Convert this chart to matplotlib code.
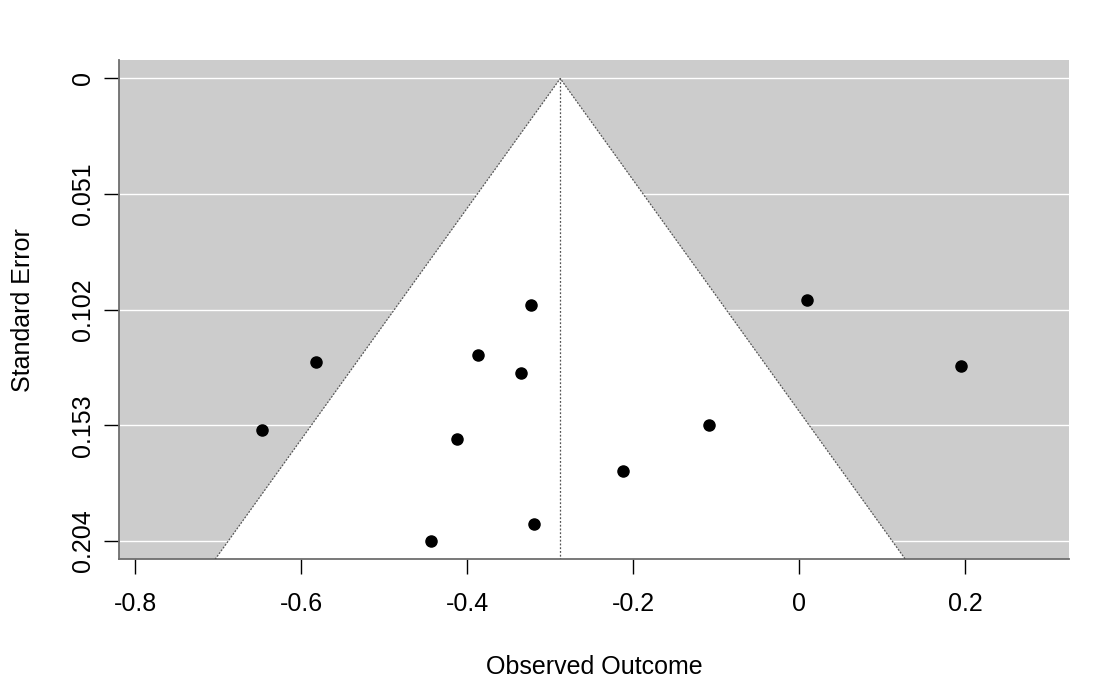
import matplotlib
matplotlib.use("Agg")
import matplotlib.pyplot as plt
import numpy as np

plt.rcParams['font.family'] = ['Liberation Sans', 'DejaVu Sans']

# data
yi = [-0.3232, 0.0093, -0.5823, -0.3871, -0.3358, 0.1950, -0.6474, -0.4124, -0.1089, -0.2124, -0.3196, -0.4437]
sei = [0.0999, 0.0977, 0.1250, 0.1219, 0.1298, 0.1268, 0.1549, 0.1589, 0.1527, 0.1730, 0.1968, 0.2039]
estimate = -0.288
x_ticks = [-0.8, -0.6, -0.4, -0.2, 0.0, 0.2]
x_ticklabels = ['-0.8', '-0.6', '-0.4', '-0.2', '0', '0.2']
y_ticks = [0.0, 0.051, 0.102, 0.153, 0.204]
y_ticklabels = ['0', '0.051', '0.102', '0.153', '0.204']

fig = plt.figure(figsize=(11, 6.8), dpi=100)
ax = fig.add_axes([0.10845, 0.1775, 0.8636, 0.73426])
ax.set_facecolor('#cccccc')

ymax = max(y_ticks)
ylim_lo = -0.04 * ymax
ylim_hi = ymax * 1.04
xlim = (-0.8193, 0.3253)
ax.set_xlim(*xlim)
ax.set_ylim(ylim_hi, ylim_lo)

# gridlines
for t in y_ticks:
    ax.axhline(t, color='white', lw=1.0, zorder=1)

# funnel
z = 1.96
se_bot = ylim_hi
poly_x = [estimate - z * se_bot, estimate, estimate + z * se_bot]
poly_y = [se_bot, 0.0, se_bot]
ax.fill(poly_x, poly_y, color='white', zorder=2, lw=0)
ax.plot(poly_x, poly_y, color='#555555', lw=0.9, ls=(0, (1.5, 1.2)), zorder=3)
ax.plot([estimate, estimate], [0.0, se_bot], color='#555555', lw=0.9, ls=(0, (1.5, 1.5)), zorder=3)

ax.plot(yi, sei, 'o', color='black', markersize=8, zorder=4)

ax.set_xticks(x_ticks)
ax.set_xticklabels(x_ticklabels)
ax.set_yticks(y_ticks)
ax.set_yticklabels(y_ticklabels, rotation=90, va='center')

for s in ['top', 'right']:
    ax.spines[s].set_visible(False)
for s in ['left', 'bottom']:
    ax.spines[s].set_color('#6e6e6e')
    ax.spines[s].set_linewidth(1.3)

ax.tick_params(axis='both', direction='out', length=10.5, width=1.0, color='black',
               labelsize=18)
ax.tick_params(axis='x', pad=13)
ax.tick_params(axis='y', pad=7)

ax.set_xlabel('Observed Outcome', fontsize=18, labelpad=28)
ax.set_ylabel('Standard Error', fontsize=18, labelpad=26)

fig.savefig('out.png', dpi=100)
